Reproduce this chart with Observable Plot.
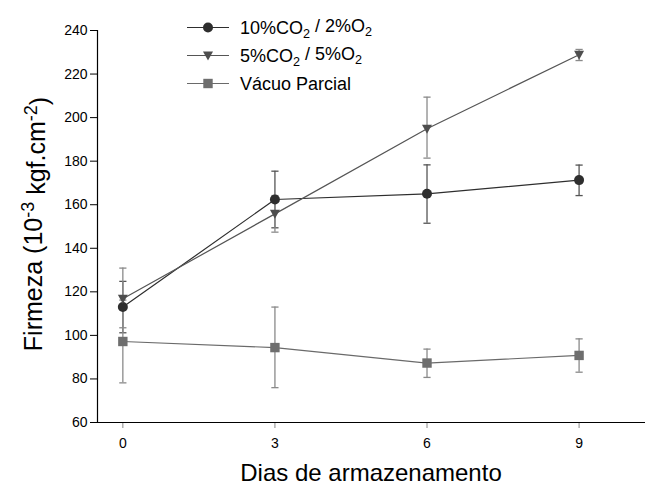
<!DOCTYPE html>
<html>
<head>
<meta charset="utf-8">
<script src="https://cdn.jsdelivr.net/npm/d3@7"></script>
<script src="https://cdn.jsdelivr.net/npm/@observablehq/plot@0.6"></script>
<style>
  body { margin: 0; background: #fff; }
  #chart { width: 645px; height: 492px; }
  #chart svg { font-family: "Liberation Sans", Arial, sans-serif; }
</style>
</head>
<body>
<div id="chart"></div>
<script>
// Storage days (x) and tick labels
const dias = [0, 3, 6, 9];
const yTicks = [60, 80, 100, 120, 140, 160, 180, 200, 220, 240];

// Series names (legend)
const nomes = ["10%CO2 / 2%O2", "5%CO2 / 5%O2", "Vácuo Parcial"];

// Firmness means (10^-3 kgf.cm^-2) per series
const mediaCO2_10 = [113.0, 162.4, 165.0, 171.3];
const mediaCO2_5  = [116.8, 155.8, 194.9, 228.9];
const mediaVacuo  = [97.2, 94.4, 87.3, 90.8];

// Error bar lower / upper limits
const infCO2_10 = [101.2, 149.4, 151.5, 164.2];
const supCO2_10 = [124.8, 175.4, 178.3, 178.2];
const infCO2_5  = [103.5, 147.4, 181.4, 226.2];
const supCO2_5  = [130.9, 164.2, 209.4, 231.3];
const infVacuo  = [78.2, 76.0, 80.7, 83.1];
const supVacuo  = [116.2, 113.0, 93.7, 98.4];

// Custom marker shapes
const capSymbol = { draw(ctx, size) { const r = Math.sqrt(size / Math.PI); ctx.moveTo(-r, 0); ctx.lineTo(r, 0); } };
const triDown = { draw(ctx, size) { const r = Math.sqrt(size / Math.PI); ctx.moveTo(-r, -0.8 * r); ctx.lineTo(r, -0.8 * r); ctx.lineTo(0, r); ctx.closePath(); } };
const squareSym = { draw(ctx, size) { const r = Math.sqrt(size / Math.PI); ctx.rect(-r, -r, 2 * r, 2 * r); } };

const estilos = [
  { nome: nomes[0], media: mediaCO2_10, inf: infCO2_10, sup: supCO2_10, symbol: "circle", r: 5, fill: "#2e2e2e", line: "#2e2e2e", err: "#555555" },
  { nome: nomes[1], media: mediaCO2_5,  inf: infCO2_5,  sup: supCO2_5,  symbol: triDown,  r: 5, fill: "#4e4e4e", line: "#555555", err: "#8a8a8a" },
  { nome: nomes[2], media: mediaVacuo,  inf: infVacuo,  sup: supVacuo,  symbol: squareSym, r: 4.7, fill: "#6e6e6e", line: "#6a6a6a", err: "#8a8a8a" }
];

const marks = [];
for (const s of estilos) {
  const rows = dias.map((d, i) => ({ dia: d, media: s.media[i], inf: s.inf[i], sup: s.sup[i] }));
  marks.push(
    Plot.ruleX(rows, { x: "dia", y1: "inf", y2: "sup", stroke: s.err, strokeWidth: 1.3 }),
    Plot.dot(rows, { x: "dia", y: "inf", symbol: capSymbol, r: 3.6, stroke: s.err, strokeWidth: 1.3 }),
    Plot.dot(rows, { x: "dia", y: "sup", symbol: capSymbol, r: 3.6, stroke: s.err, strokeWidth: 1.3 })
  );
}
for (const s of estilos) {
  const rows = dias.map((d, i) => ({ dia: d, media: s.media[i] }));
  marks.push(Plot.line(rows, { x: "dia", y: "media", stroke: s.line, strokeWidth: 1.2 }));
}
for (const s of estilos) {
  const rows = dias.map((d, i) => ({ dia: d, media: s.media[i] }));
  marks.push(Plot.dot(rows, { x: "dia", y: "media", symbol: s.symbol, r: s.r, fill: s.fill, stroke: "none" }));
}

const chart = Plot.plot({
  width: 645,
  height: 492,
  marginTop: 30,
  marginRight: 0,
  marginBottom: 70,
  marginLeft: 97,
  style: { fontFamily: "'Liberation Sans', Arial, sans-serif", fontSize: "14px", color: "#000", background: "#fff" },
  x: { domain: [-0.5, 10.31], ticks: dias, tickFormat: d => String(d), tickSize: 6, tickPadding: 10, label: null },
  y: { domain: [60, 240], ticks: yTicks, tickSize: 7, tickPadding: 3, label: null },
  marks: [
    Plot.axisX({ ticks: dias, tickSize: 6, tickPadding: 10, stroke: "#888", fill: "#000", label: null }),
    Plot.axisY({ ticks: yTicks, tickSize: 7, tickPadding: 3, stroke: "#000", fill: "#000", label: null }),
    Plot.ruleY([60], { stroke: "#000", strokeWidth: 1.2 }),
    Plot.ruleX([-0.5], { stroke: "#000", strokeWidth: 1.2 }),
    ...marks
  ]
});
document.getElementById("chart").appendChild(chart);

// Axis titles and legend drawn into the same SVG
const svg = d3.select(chart);
const font = "'Liberation Sans', Arial, sans-serif";

// Writes a label, lowering every "2" that follows an "O" (chemical formula subscript)
function writeLabel(textSel, label) {
  const parts = [];
  let buf = "";
  for (let i = 0; i < label.length; i++) {
    const ch = label[i];
    if (ch === "2" && i > 0 && label[i - 1] === "O") {
      if (buf) parts.push({ text: buf, sub: false });
      parts.push({ text: "2", sub: true });
      buf = "";
    } else buf += ch;
  }
  if (buf) parts.push({ text: buf, sub: false });
  let prevSub = false;
  for (const p of parts) {
    const ts = textSel.append("tspan").text(p.text);
    if (p.sub) ts.attr("dy", "0.3em").attr("font-size", "0.7em");
    else if (prevSub) ts.attr("dy", "-0.3em");
    prevSub = p.sub;
  }
}

const yTitle = svg.append("text")
  .attr("transform", "translate(42,224) rotate(-90)")
  .attr("text-anchor", "middle")
  .attr("font-family", font)
  .attr("font-size", 25)
  .attr("fill", "#000");
yTitle.append("tspan").text("Firmeza (10");
yTitle.append("tspan").attr("dy", "-0.45em").attr("font-size", "0.72em").text("-3");
yTitle.append("tspan").attr("dy", "0.45em").text(" kgf.cm");
yTitle.append("tspan").attr("dy", "-0.45em").attr("font-size", "0.72em").text("-2");
yTitle.append("tspan").attr("dy", "0.45em").text(")");

svg.append("text")
  .attr("x", 371).attr("y", 481)
  .attr("text-anchor", "middle")
  .attr("font-family", font)
  .attr("font-size", 24)
  .attr("fill", "#000")
  .text("Dias de armazenamento");

const legendRows = [27.5, 55.5, 83.5];
estilos.forEach((s, i) => {
  const g = svg.append("g").attr("transform", `translate(0,${legendRows[i]})`);
  g.append("line").attr("x1", 187).attr("x2", 229).attr("y1", 0).attr("y2", 0)
    .attr("stroke", s.line).attr("stroke-width", 1.2);
  const sym = s.symbol === "circle" ? d3.symbolCircle : s.symbol;
  g.append("path")
    .attr("transform", "translate(208,0)")
    .attr("d", d3.symbol(sym, s.r * s.r * Math.PI)())
    .attr("fill", s.fill);
  const t = g.append("text").attr("x", 240).attr("y", 0).attr("dy", "0.36em")
    .attr("text-anchor", "start")
    .attr("font-family", font).attr("font-size", 18).attr("fill", "#000");
  writeLabel(t, s.nome);
});
</script>
</body>
</html>
